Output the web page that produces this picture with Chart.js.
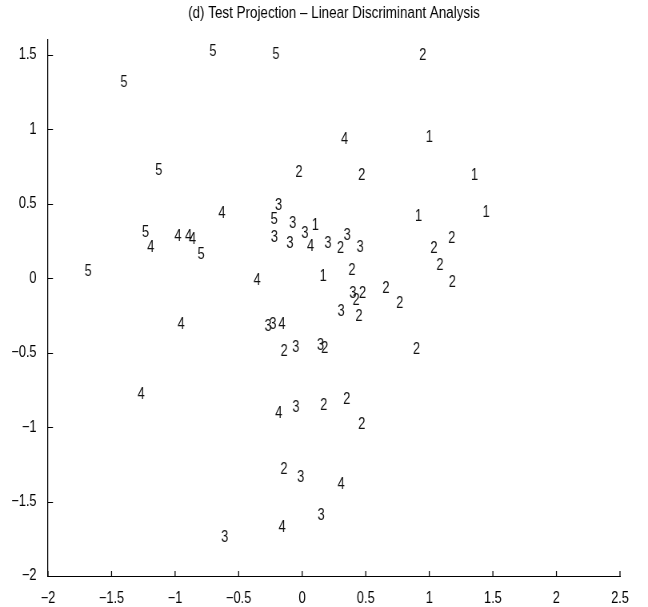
<!DOCTYPE html>
<html><head><meta charset="utf-8">
<script src="https://cdn.jsdelivr.net/npm/chart.js@4.4.1/dist/chart.umd.min.js"></script>
<style>html,body{margin:0;padding:0;background:#fff}#wrap{width:648px;height:607px;overflow:hidden}
#c{display:block;width:648px;height:607px}</style>
</head><body><div id="wrap"><canvas id="c" width="810" height="607" style="width:648px;height:607px"></canvas></div>
<script>
const titleText = '(d) Test Projection \u2013 Linear Discriminant Analysis';
const classLabels = ['5','5','2','5','4','1','5','2','2','1','4','3','5','1','1','5','3','1','3','3','3','4','3','2','3','3','4','4','4','4','5','2','2','2','2','5','4','1','2','3','2','2','2','2','3','2','4','3','3','4','2','3','3','2','2','4','4','3','2','2','2','2','3','4','3','4','3'];
const xValues = [-0.731,-0.235,0.921,-1.431,0.305,0.972,-1.156,-0.054,0.441,1.328,-0.660,-0.214,-0.249,0.887,1.419,-1.260,-0.103,0.076,-0.006,-0.247,-0.125,0.038,0.174,0.274,0.326,0.428,-1.006,-0.922,-0.891,-1.219,-0.823,1.149,1.009,1.055,1.153,-1.712,-0.383,0.137,0.363,0.371,0.447,0.397,0.630,0.740,0.279,0.419,-0.980,-0.296,-0.259,-0.188,-0.170,-0.079,0.116,0.150,0.872,-1.295,-0.212,-0.078,0.142,0.323,0.440,-0.172,-0.039,0.279,0.121,-0.186,-0.637];
const yValues = [1.534,1.514,1.507,1.326,0.943,0.960,0.739,0.723,0.706,0.706,0.448,0.504,0.410,0.429,0.455,0.320,0.381,0.370,0.310,0.286,0.243,0.226,0.246,0.213,0.303,0.220,0.291,0.291,0.276,0.220,0.169,0.280,0.213,0.099,-0.016,0.056,-0.003,0.023,0.068,-0.089,-0.089,-0.140,-0.056,-0.156,-0.212,-0.242,-0.298,-0.310,-0.300,-0.301,-0.479,-0.452,-0.436,-0.459,-0.466,-0.766,-0.895,-0.856,-0.842,-0.801,-0.971,-1.269,-1.327,-1.376,-1.584,-1.661,-1.728];
const xTicks = [-2,-1.5,-1,-0.5,0,0.5,1,1.5,2,2.5];
const yTicks = [-2,-1.5,-1,-0.5,0,0.5,1,1.5];

// canvas is drawn 810 wide and shown 648 wide (narrow, Helvetica-like text)
const SX = 648 / 810;
const FONT = '"Liberation Sans", Arial, Helvetica, sans-serif';
const fmt = v => (v < 0 ? '\u2212' + Math.abs(v) : String(v));

const textMarks = {
  id: 'textMarks',
  afterDatasetsDraw(chart) {
    const ctx = chart.ctx;
    const meta = chart.getDatasetMeta(0);
    ctx.save();
    ctx.font = '16px ' + FONT;
    ctx.fillStyle = '#111';
    ctx.textAlign = 'left';
    ctx.textBaseline = 'middle';
    meta.data.forEach((el, i) => ctx.fillText(classLabels[i], el.x, el.y + 2));
    ctx.restore();
  }
};
const inTicks = {
  id: 'inTicks',
  afterDraw(chart) {
    const ctx = chart.ctx, a = chart.chartArea;
    const xs = chart.scales.x, ys = chart.scales.y;
    ctx.save();
    ctx.strokeStyle = '#000';
    ctx.lineWidth = 1 / SX;
    ctx.beginPath();
    xTicks.forEach(v => { const p = xs.getPixelForValue(v); ctx.moveTo(p, a.bottom); ctx.lineTo(p, a.bottom - 5); });
    ctx.stroke();
    ctx.lineWidth = 1;
    ctx.beginPath();
    yTicks.forEach(v => { const p = Math.round(ys.getPixelForValue(v)) + 0.5; ctx.moveTo(a.left, p); ctx.lineTo(a.left + 5 / SX, p); });
    ctx.stroke();
    ctx.restore();
  }
};

new Chart(document.getElementById('c'), {
  type: 'scatter',
  data: { datasets: [{ data: xValues.map((x, i) => ({ x, y: yValues[i] })), pointRadius: 0, pointHoverRadius: 0 }] },
  options: {
    responsive: false, animation: false, devicePixelRatio: 1,
    layout: { padding: { left: 0, right: 810 - 620 / SX, top: 0, bottom: 0 } },
    plugins: {
      legend: { display: false }, tooltip: { enabled: false },
      title: { display: true, text: titleText, fullSize: false, color: '#000',
               font: { family: FONT, size: 16.8, weight: 'normal', lineHeight: 1.2 },
               padding: { top: 3, bottom: 16.84 } }
    },
    scales: {
      x: { type: 'linear', min: -2, max: 2.5,
           afterBuildTicks: s => { s.ticks = xTicks.map(v => ({ value: v })); },
           afterFit: s => { s.height = 31; },
           grid: { display: false }, border: { display: true, color: '#000', width: 1 },
           ticks: { color: '#000', padding: 5, maxRotation: 0, autoSkip: false, callback: v => fmt(v), font: { family: FONT, size: 16 } } },
      y: { type: 'linear', min: -2, max: 1.6,
           afterBuildTicks: s => { s.ticks = yTicks.map(v => ({ value: v })); },
           afterFit: s => { s.width = 48 / SX; },
           grid: { display: false }, border: { display: true, color: '#000', width: 1 / SX },
           ticks: { color: '#000', padding: 5 / SX, autoSkip: false, callback: v => fmt(v), font: { family: FONT, size: 16 } } }
    }
  },
  plugins: [textMarks, inTicks]
});
</script></body></html>
